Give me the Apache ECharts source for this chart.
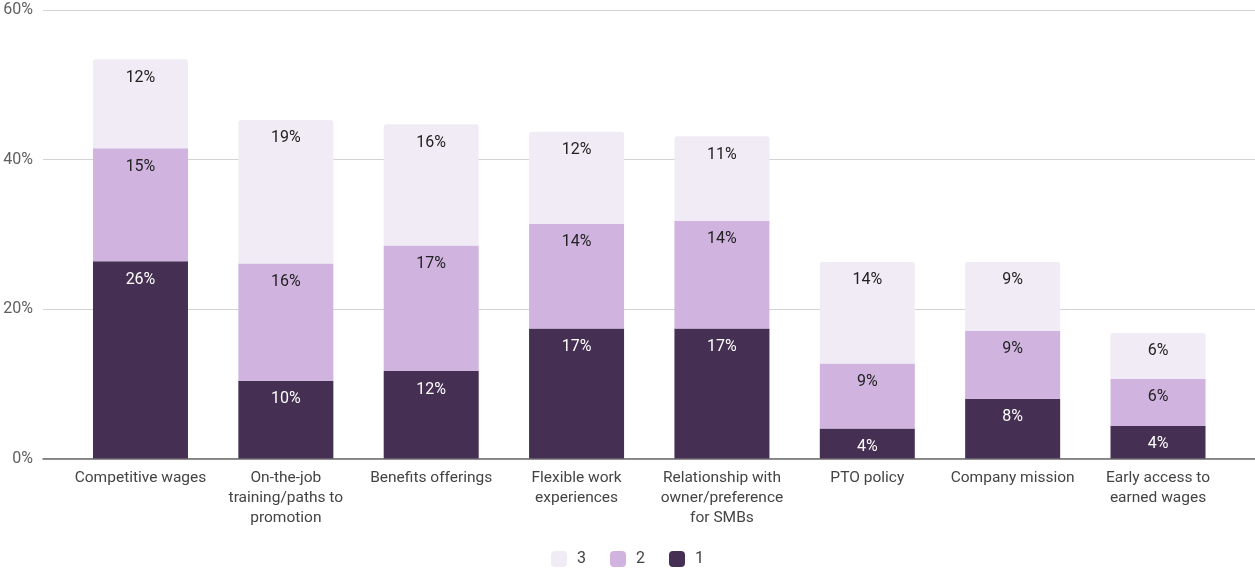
<!DOCTYPE html>
<html>
<head>
<meta charset="utf-8">
<script src="https://cdn.jsdelivr.net/npm/echarts@6/dist/echarts.min.js"></script>
<style>
html,body{margin:0;padding:0;background:#fff;}
#chart{width:1255px;height:571px;}
</style>
</head>
<body>
<div id="chart"></div>
<script>
const categories = [
  "Competitive wages",
  "On-the-job\ntraining/paths to\npromotion",
  "Benefits offerings",
  "Flexible work\nexperiences",
  "Relationship with\nowner/preference\nfor SMBs",
  "PTO policy",
  "Company mission",
  "Early access to\nearned wages"
];
const series1 = [26.4, 10.4, 11.7, 17.4, 17.4, 4.0, 8.0, 4.35];
const series2 = [15.1, 15.7, 16.8, 14.0, 14.4, 8.7, 9.1, 6.3];
const series3 = [11.9, 19.2, 16.2, 12.3, 11.3, 13.6, 9.2, 6.15];
const seriesNames = ["1", "2", "3"];
const legendOrder = ["3", "2", "1"];
const yTicks = { min: 0, max: 60, interval: 20 };

const colors = ["#452f52", "#d0b4df", "#f0ebf4"];
const FONT = "Roboto";

const chart = echarts.init(document.getElementById('chart'), null, { renderer: 'canvas' });

function mkLabel(color) {
  return {
    show: true,
    position: 'insideTop',
    distance: 10.5,
    fontFamily: FONT,
    fontSize: 16,
    color: color,
    formatter: p => Math.round(p.value) + '%'
  };
}

const datas = [series1, series2, series3];
const labelColors = ["#ffffff", "#222222", "#222222"];

chart.setOption({
  animation: false,
  color: colors,
  textStyle: { fontFamily: FONT },
  grid: [
    { left: 43, right: 0, top: 10, bottom: 112.5 },
    { left: 67.8, right: 24.3, top: 10, bottom: 112.5 }
  ],
  legend: {
    data: legendOrder,
    top: 551,
    left: 'center',
    itemWidth: 16,
    itemHeight: 16,
    itemGap: 24,
    icon: 'roundRect',
    padding: 0,
    textStyle: { fontFamily: FONT, fontSize: 16, color: '#444', padding: [0, 0, 0, 5] }
  },
  xAxis: [
    {
      gridIndex: 0, type: 'value', min: 0, max: 1,
      axisLine: { show: true, lineStyle: { color: '#6b6b6b', width: 1.5 } },
      axisTick: { show: false }, axisLabel: { show: false }, splitLine: { show: false }
    },
    {
      gridIndex: 1, type: 'category', data: categories,
      axisLine: { show: false }, axisTick: { show: false },
      axisLabel: { interval: 0, margin: 10, fontFamily: FONT, fontSize: 15.5, color: '#444', lineHeight: 20 }
    }
  ],
  yAxis: [
    {
      gridIndex: 0, type: 'value', min: yTicks.min, max: yTicks.max, interval: yTicks.interval,
      axisLine: { show: false }, axisTick: { show: false },
      axisLabel: { formatter: '{value}%', fontFamily: FONT, fontSize: 16, color: '#5f5f5f', margin: 10 },
      splitLine: { lineStyle: { color: '#d3d3d3', width: 1 } }
    },
    {
      gridIndex: 1, type: 'value', min: yTicks.min, max: yTicks.max, interval: yTicks.interval,
      show: false, splitLine: { show: false }
    }
  ],
  series: seriesNames.map((name, i) => ({
    name: name,
    type: 'bar',
    stack: 'total',
    xAxisIndex: 1,
    yAxisIndex: 1,
    barWidth: 95,
    data: datas[i],
    itemStyle: { color: colors[i], borderRadius: i === 2 ? [3, 3, 0, 0] : 0 },
    label: mkLabel(labelColors[i])
  }))
});
</script>
</body>
</html>
